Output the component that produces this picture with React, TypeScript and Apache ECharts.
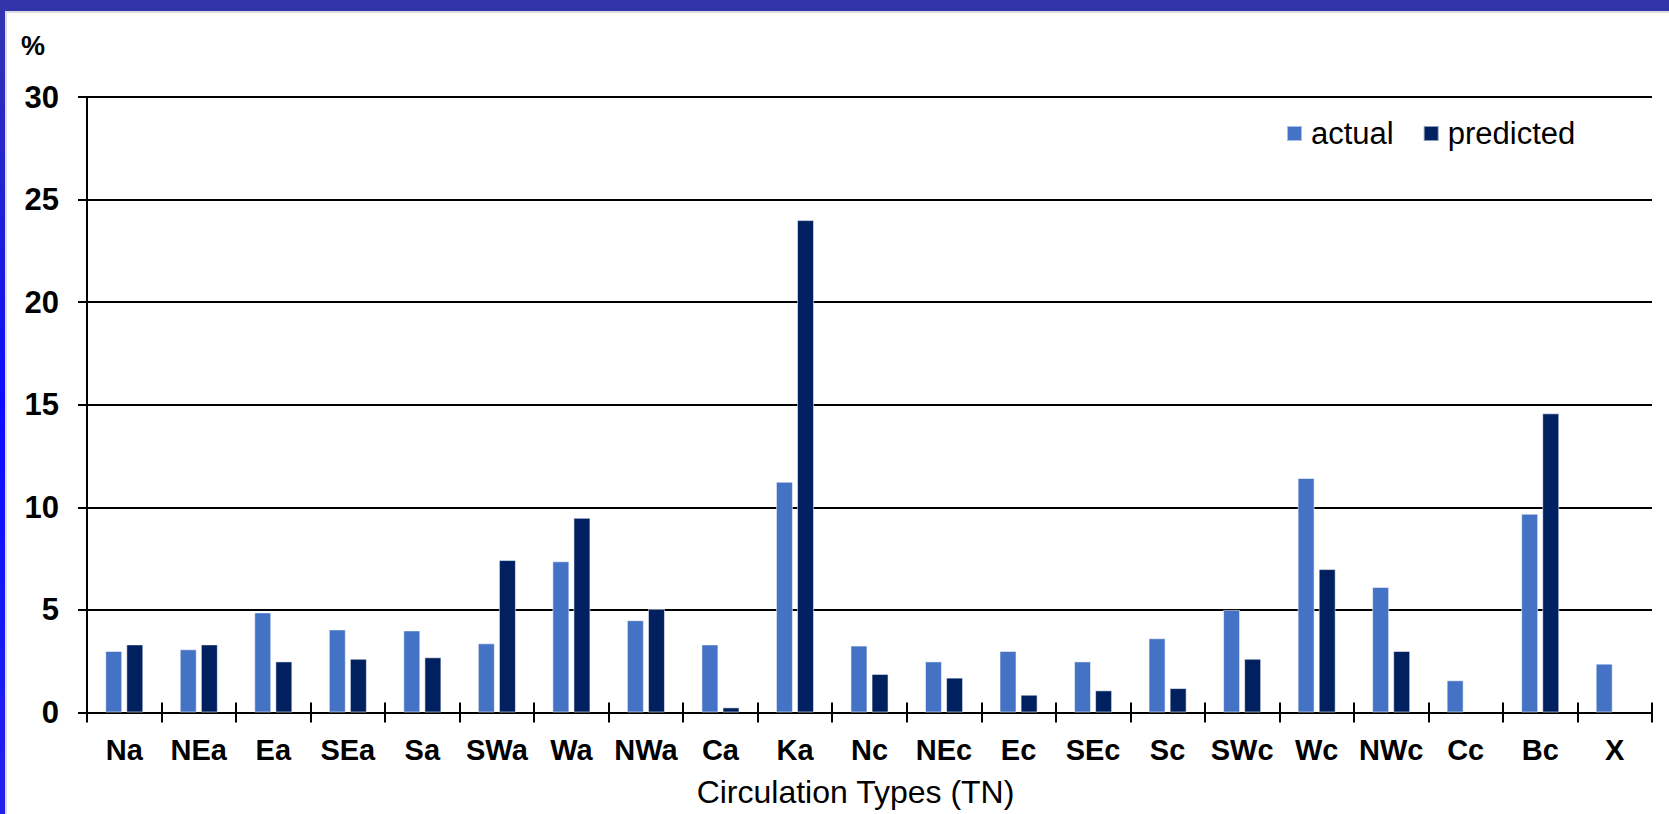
import React, { useEffect, useRef } from "react";
import * as echarts from "echarts";

const categories = [
  "Na", "NEa", "Ea", "SEa", "Sa", "SWa", "Wa", "NWa", "Ca", "Ka", "Nc",
  "NEc", "Ec", "SEc", "Sc", "SWc", "Wc", "NWc", "Cc", "Bc", "X",
];
const actualValues = [
  3.0, 3.08, 4.88, 4.05, 4.0, 3.37, 7.37, 4.5, 3.32, 11.25, 3.26,
  2.49, 3.0, 2.49, 3.62, 5.0, 11.43, 6.12, 1.57, 9.69, 2.38,
];
const predictedValues: (number | string)[] = [
  3.32, 3.32, 2.49, 2.62, 2.69, 7.43, 9.49, 5.05, 0.25, 24.0, 1.88,
  1.7, 0.87, 1.08, 1.19, 2.62, 6.99, 3.0, "-", 14.58, "-",
];
const seriesNames = ["actual", "predicted"];
const yMin = 0;
const yMax = 30;
const yInterval = 5;

const FONT = "'Liberation Sans', Arial, sans-serif";

export default function App() {
  const ref = useRef<HTMLDivElement>(null);

  useEffect(() => {
    if (!ref.current) return;
    const chart = echarts.init(ref.current, null, { renderer: "svg" });
    const barBorder = { borderColor: "rgba(255,255,255,0.55)", borderWidth: 1 };
    chart.setOption({
      animation: false,
      backgroundColor: "#ffffff",
      textStyle: { fontFamily: FONT },
      graphic: [
        {
          type: "rect",
          z: -10,
          shape: { x: 0, y: 0, width: 5, height: 814 },
          style: {
            fill: new echarts.graphic.LinearGradient(0, 0, 0, 1, [
              { offset: 0, color: "#3535ad" },
              { offset: 0.5, color: "#0c0cff" },
              { offset: 1, color: "#2222ee" },
            ]),
          },
        },
        {
          type: "rect",
          z: -10,
          shape: { x: 0, y: 0, width: 1669, height: 11 },
          style: { fill: "#3333aa" },
        },
        {
          type: "rect",
          z: -10,
          shape: { x: 5, y: 11, width: 1664, height: 2 },
          style: { fill: "#dcdce4" },
        },
        {
          type: "rect",
          z: -10,
          shape: { x: 5, y: 11, width: 2, height: 803 },
          style: { fill: "#dcdce4" },
        },
      ],
      legend: {
        data: seriesNames,
        left: 1286,
        top: 118,
        itemWidth: 15,
        itemHeight: 15,
        itemGap: 29,
        icon: "rect",
        padding: 0,
        textStyle: {
          fontFamily: FONT,
          fontSize: 31,
          color: "#000000",
          padding: [0, 0, 0, 4],
        },
      },
      grid: { left: 87, right: 17, top: 97, bottom: 101.5, containLabel: false },
      xAxis: [
        {
          type: "category",
          data: categories,
          name: "Circulation Types (TN)",
          nameLocation: "middle",
          nameGap: 63,
          nameTextStyle: {
            fontFamily: FONT,
            fontSize: 32,
            color: "#000000",
            padding: [0, 28, 0, 0],
          },
          axisLine: { show: true, lineStyle: { color: "#000000", width: 2 } },
          axisTick: { show: true, length: 10, lineStyle: { color: "#000000", width: 2 } },
          axisLabel: {
            fontFamily: FONT,
            fontSize: 29,
            fontWeight: "bold",
            color: "#000000",
            margin: 23,
            interval: 0,
          },
          splitLine: { show: false },
        },
        {
          type: "category",
          data: categories,
          position: "bottom",
          axisLine: { show: false },
          axisTick: { show: true, inside: true, length: 10, lineStyle: { color: "#000000", width: 2 } },
          axisLabel: { show: false },
          splitLine: { show: false },
        },
      ],
      yAxis: {
        type: "value",
        min: yMin,
        max: yMax,
        interval: yInterval,
        name: "%",
        nameLocation: "end",
        nameGap: 38,
        nameTextStyle: {
          fontFamily: FONT,
          fontSize: 27,
          fontWeight: "bold",
          color: "#000000",
          align: "center",
          padding: [0, 108, 0, 0],
        },
        axisLine: { show: true, lineStyle: { color: "#000000", width: 2 } },
        axisTick: { show: true, length: 9, lineStyle: { color: "#000000", width: 2 } },
        axisLabel: {
          fontFamily: FONT,
          fontSize: 31,
          fontWeight: "bold",
          color: "#000000",
          margin: 28,
        },
        splitLine: { show: true, lineStyle: { color: "#000000", width: 2 } },
      },
      series: [
        {
          name: seriesNames[0],
          type: "bar",
          data: actualValues,
          barWidth: 17,
          barGap: "24%",
          itemStyle: { color: "#4472c4", ...barBorder },
        },
        {
          name: seriesNames[1],
          type: "bar",
          data: predictedValues,
          barWidth: 17,
          barGap: "24%",
          itemStyle: { color: "#002060", ...barBorder },
        },
      ],
    });
    return () => chart.dispose();
  }, []);

  return (
    <div
      ref={ref}
      style={{ position: "fixed", left: 0, top: 0, width: 1669, height: 814 }}
    />
  );
}
